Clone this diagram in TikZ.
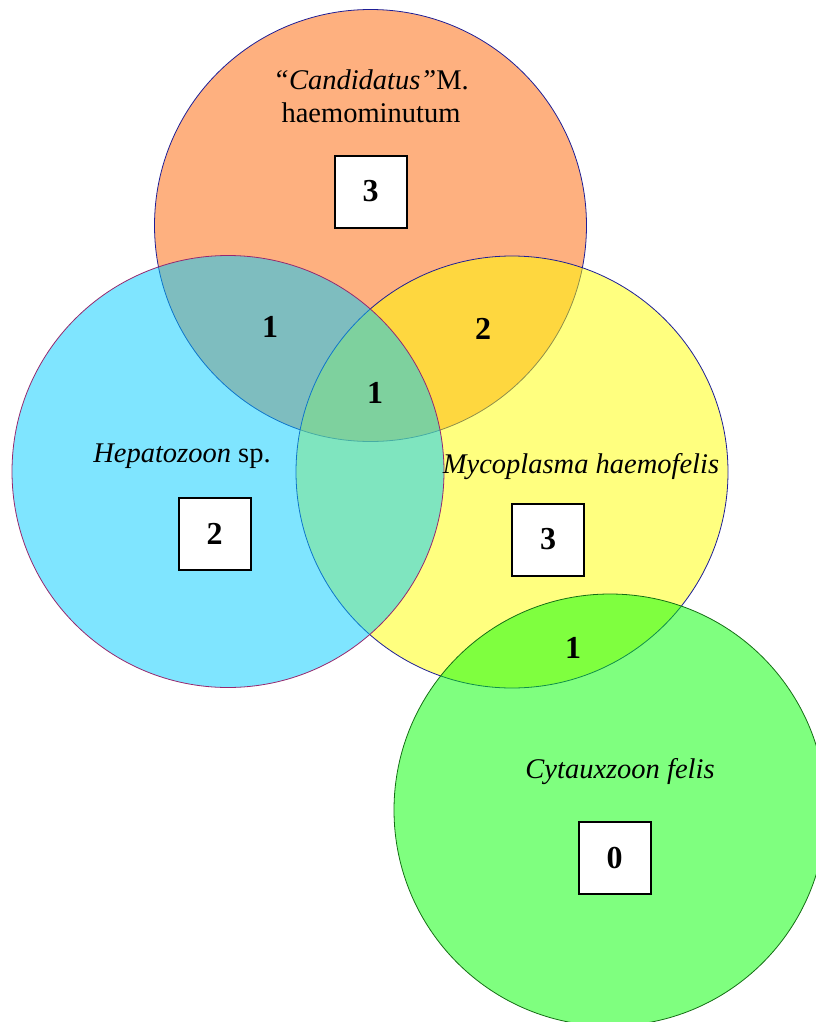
\documentclass[tikz,border=0pt]{standalone}
\usepackage{fontspec}
\setmainfont{Liberation Serif}
\definecolor{corange}{RGB}{253,98,0}
\definecolor{ccyan}{RGB}{0,204,255}
\definecolor{cyellow}{RGB}{255,255,0}
\definecolor{cgreen}{RGB}{0,255,0}
\definecolor{navyline}{RGB}{30,30,150}
\definecolor{purpline}{RGB}{150,40,110}
\definecolor{greenline}{RGB}{20,110,20}
\tikzset{
  setcircle/.style={circle, minimum size=432pt, inner sep=0pt, line width=0.8pt, fill opacity=0.5},
  countbox/.style={draw=black, fill=white, line width=2pt, minimum size=72pt, inner sep=0pt,
    font=\fontsize{32}{36}\selectfont\bfseries},
  overlapnum/.style={font=\fontsize{32}{36}\selectfont\bfseries, inner sep=0pt},
  setlabel/.style={anchor=base, inner sep=0pt, font=\fontsize{28.5}{33}\selectfont}
}
\begin{document}
\begin{tikzpicture}[x=1pt,y=-1pt]
\useasboundingbox (0,0) rectangle (815,1022);
% circles (draw order: orange, yellow, cyan, green)
\node[setcircle, draw=navyline, fill=corange] (corangec) at (370.5,225.5) {};
\node[setcircle, draw=navyline, fill=cyellow] (cyellowc) at (512,472) {};
\node[setcircle, draw=purpline, fill=ccyan] (ccyanc) at (228,471.5) {};
\node[setcircle, draw=greenline, fill=cgreen] (cgreenc) at (610,810) {};
% labels
\node[setlabel] (lcand) at (371,90) {\textit{“Candidatus”}M.};
\node[setlabel] (lhaem) at (371,123) {haemominutum};
\node[setlabel] (lhep) at (182,462) {\textit{Hepatozoon} sp.};
\node[setlabel] (lmyc) at (581,473) {\textit{Mycoplasma haemofelis}};
\node[setlabel] (lcyt) at (620,778) {\textit{Cytauxzoon felis}};
% count boxes
\node[countbox] (borange) at (370.5,191.5) {3};
\node[countbox] (bcyan) at (214.5,534) {2};
\node[countbox] (byellow) at (548,539.5) {3};
\node[countbox] (bgreen) at (614.5,858) {0};
% overlap counts
\node[overlapnum] (noc) at (270,327) {1};
\node[overlapnum] (noy) at (483,329) {2};
\node[overlapnum] (nocy) at (375,393) {1};
\node[overlapnum] (nyg) at (573,648) {1};
\end{tikzpicture}
\end{document}
